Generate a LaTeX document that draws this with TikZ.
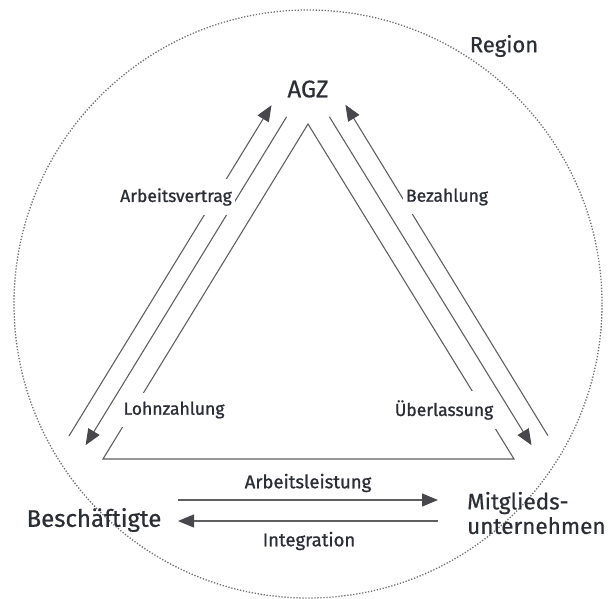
\documentclass[tikz,border=0pt]{standalone}
\usepackage{fontspec}
\setmainfont{Fira Sans}
\newfontfamily\partyfont[FakeBold=0.6]{Fira Sans}
\newfontfamily\flowfont[FakeBold=1.0]{Fira Sans}
\usetikzlibrary{arrows.meta}
\definecolor{ink}{HTML}{2B2E34}
\definecolor{wirecol}{HTML}{606062}
\definecolor{tipcol}{HTML}{48484C}
\definecolor{ringcol}{HTML}{707070}
\begin{document}
\begin{tikzpicture}[x=1pt,y=-1pt,
  wire/.style={draw=wirecol, line width=1.1pt},
  flow/.style={wire, -{Triangle[length=16pt,width=13pt,color=tipcol]}},
  party/.style={text=ink, inner sep=0pt, font=\partyfont\fontsize{24}{25}\selectfont},
  flowlabel/.style={text=ink, fill=white, inner xsep=3pt, inner ysep=9pt,
                    font=\flowfont\fontsize{17.5}{19}\selectfont},
  ring/.style={draw=ringcol, line width=1.3pt, dash pattern=on 1.3pt off 1.7pt}]
\useasboundingbox (0,0) rectangle (613,598);

% the region
\node[ring, circle, minimum size=588pt, inner sep=0pt] (regionring) at (308,304) {};
\node[party, font=\partyfont\fontsize{22}{25}\selectfont] (region) at (504,46) {Region};

% the three parties
\node[party] (agz) at (308,89) {AGZ};
\node[party] (besch) at (94,520) {Beschäftigte};
\node[party, anchor=west, align=left, font=\partyfont\fontsize{22.5}{24.5}\selectfont]
  (mitgl) at (467,513) {Mitglieds-\\unternehmen};

% inner triangle
\coordinate (apex) at (308,124);
\coordinate (bl) at (103,459);
\coordinate (br) at (514,459);
\draw[wire] (apex) -- (br) -- (bl) -- cycle;

% end points of the flows along the two sides
\coordinate (vertragS) at (68.9,436.1);
\coordinate (vertragE) at (271.5,105.2);
\coordinate (lohnS) at (286.6,116.8);
\coordinate (lohnE) at (85.6,445.2);
\coordinate (bezS) at (547.9,435.6);
\coordinate (bezE) at (345.4,104.7);
\coordinate (ueberS) at (329.4,116.8);
\coordinate (ueberE) at (531.5,445.2);

\draw[flow] (vertragS) -- (vertragE);
\draw[flow] (lohnS) -- (lohnE);
\draw[flow] (bezS) -- (bezE);
\draw[flow] (ueberS) -- (ueberE);

% flows along the base
\coordinate (leistS) at (178,500);
\coordinate (leistE) at (438,500);
\coordinate (integS) at (438,521);
\coordinate (integE) at (178,521);
\draw[flow] (leistS) -- (leistE);
\draw[flow] (integS) -- (integE);

% flow labels
\node[flowlabel] (lvertrag) at (176,197) {Arbeitsvertrag};
\node[flowlabel] (lbez) at (447,197) {Bezahlung};
\node[flowlabel] (llohn) at (174,410) {Lohnzahlung};
\node[flowlabel] (lueber) at (444,410) {Überlassung};
\node[flowlabel, fill=none, font=\flowfont\fontsize{18.5}{20}\selectfont] (lleist) at (308,483) {Arbeitsleistung};
\node[flowlabel, fill=none, font=\flowfont\fontsize{18.5}{20}\selectfont] (linteg) at (309,541) {Integration};
\end{tikzpicture}
\end{document}
